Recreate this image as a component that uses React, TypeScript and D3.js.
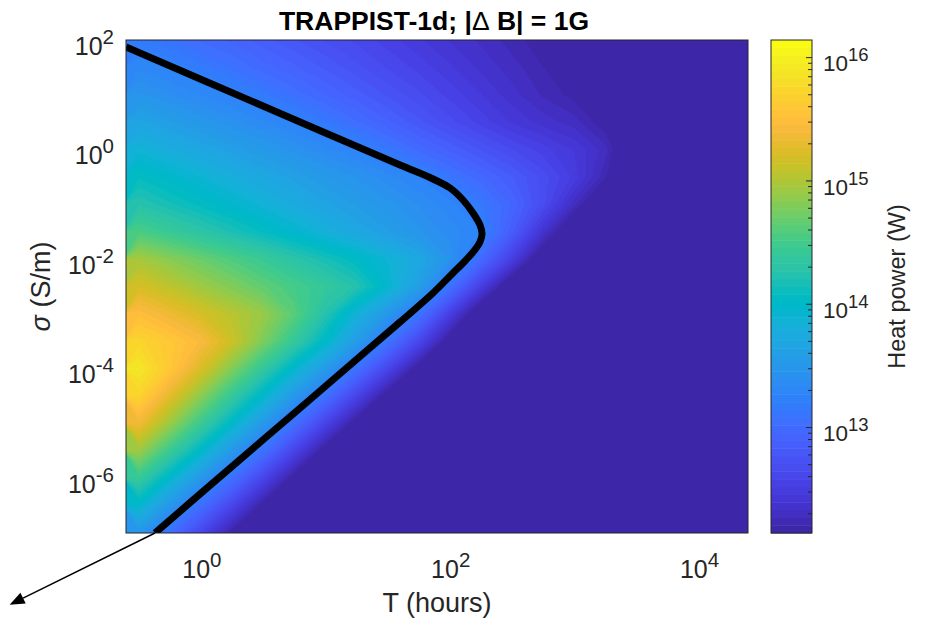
import React from 'react'
import * as d3 from 'd3'

const FONT = "'Liberation Sans', Arial, Helvetica, sans-serif"
const INK = '#262626'

// MATLAB parula, 64 entries
const parula = [
  [0.2422, 0.1504, 0.6603], [0.2504, 0.165, 0.7076], [0.2578, 0.1818, 0.7511], [0.2647, 0.1978, 0.7952],
  [0.2706, 0.2147, 0.8364], [0.2751, 0.2342, 0.871], [0.2783, 0.2559, 0.8991], [0.2803, 0.2782, 0.9221],
  [0.2813, 0.3006, 0.9414], [0.281, 0.3228, 0.9579], [0.2795, 0.3447, 0.9717], [0.276, 0.3667, 0.9829],
  [0.2699, 0.3892, 0.9906], [0.2602, 0.4123, 0.9952], [0.244, 0.4358, 0.9988], [0.2206, 0.4603, 0.9973],
  [0.1963, 0.4847, 0.9892], [0.1834, 0.5074, 0.9798], [0.1786, 0.5289, 0.9682], [0.1764, 0.5499, 0.952],
  [0.1687, 0.5703, 0.9359], [0.154, 0.5902, 0.9218], [0.146, 0.6091, 0.9079], [0.138, 0.6276, 0.8973],
  [0.1248, 0.6459, 0.8883], [0.1113, 0.6635, 0.8763], [0.0952, 0.6798, 0.8598], [0.0689, 0.6948, 0.8394],
  [0.0297, 0.7082, 0.8163], [0.0036, 0.7203, 0.7917], [0.0067, 0.7312, 0.766], [0.0433, 0.7411, 0.7394],
  [0.0964, 0.75, 0.712], [0.1408, 0.7584, 0.6842], [0.1717, 0.767, 0.6554], [0.1938, 0.7758, 0.6251],
  [0.2161, 0.7843, 0.5923], [0.247, 0.7918, 0.5567], [0.2906, 0.7973, 0.5188], [0.3406, 0.8008, 0.4789],
  [0.3909, 0.8029, 0.4354], [0.4456, 0.8024, 0.3909], [0.5044, 0.7993, 0.348], [0.5616, 0.7942, 0.3045],
  [0.6174, 0.7876, 0.2612], [0.672, 0.7793, 0.2227], [0.7242, 0.7698, 0.191], [0.7738, 0.7598, 0.1646],
  [0.8203, 0.7498, 0.1535], [0.8634, 0.7406, 0.1596], [0.9035, 0.733, 0.1774], [0.9393, 0.7288, 0.21],
  [0.9728, 0.7298, 0.2394], [0.9956, 0.7434, 0.2371], [0.997, 0.7659, 0.2199], [0.9952, 0.7893, 0.2028],
  [0.9892, 0.8136, 0.1885], [0.9786, 0.8386, 0.1766], [0.9676, 0.8639, 0.1643], [0.961, 0.889, 0.1537],
  [0.9597, 0.9135, 0.1423], [0.9628, 0.9373, 0.1265], [0.9691, 0.9606, 0.1064], [0.9769, 0.9839, 0.0805],
]
const parulaHex = parula.map(([r, g, b]) => d3.rgb(r * 255, g * 255, b * 255).formatHex())

// grid: log10 T (hours) columns, log10 sigma (S/m) rows
const logTGrid = [-0.5, -0.25, 0, 0.25, 0.5, 0.75, 1, 1.25, 1.5, 1.75, 2, 2.25, 2.5, 2.75, 3, 3.25, 3.5, 3.75, 4, 4.25, 4.5]
const logSigmaGrid = [2, 1.5, 1, 0.5, 0, -0.5, -1, -1.5, -2, -2.5, -3, -3.5, -4, -4.5, -5, -5.5, -6, -6.5, -7]

// log10 heat power (W), one row per sigma
const heatLog = [
  [13.17, 13.09, 13.01, 12.94, 12.86, 12.78, 12.7, 12.63, 12.55, 12.47, 12.39, 12.32, 12.24, 12.16, 12.08, 12.0, 11.93, 11.9, 11.9, 11.9, 11.9],
  [13.32, 13.26, 13.17, 13.08, 12.99, 12.91, 12.82, 12.73, 12.64, 12.56, 12.47, 12.38, 12.3, 12.21, 12.13, 12.04, 11.95, 11.9, 11.9, 11.9, 11.9],
  [13.47, 13.4, 13.33, 13.26, 13.16, 13.06, 12.96, 12.86, 12.76, 12.66, 12.56, 12.46, 12.36, 12.26, 12.18, 12.08, 11.96, 11.9, 11.9, 11.9, 11.9],
  [13.67, 13.59, 13.5, 13.42, 13.34, 13.26, 13.15, 13.03, 12.91, 12.79, 12.67, 12.56, 12.45, 12.37, 12.3, 12.15, 11.95, 11.9, 11.9, 11.9, 11.9],
  [13.87, 13.78, 13.7, 13.61, 13.53, 13.44, 13.35, 13.27, 13.14, 13.0, 12.88, 12.76, 12.65, 12.55, 12.45, 12.3, 11.92, 11.9, 11.9, 11.9, 11.9],
  [14.07, 13.98, 13.89, 13.8, 13.71, 13.62, 13.53, 13.45, 13.36, 13.27, 13.12, 12.98, 12.84, 12.68, 12.5, 12.22, 11.9, 11.9, 11.9, 11.9, 11.9],
  [14.26, 14.16, 14.06, 13.96, 13.86, 13.76, 13.66, 13.57, 13.48, 13.39, 13.3, 13.15, 12.95, 12.67, 12.3, 11.9, 11.9, 11.9, 11.9, 11.9, 11.9],
  [14.55, 14.43, 14.31, 14.19, 14.07, 13.95, 13.83, 13.71, 13.59, 13.47, 13.36, 13.27, 12.85, 12.38, 11.95, 11.9, 11.9, 11.9, 11.9, 11.9, 11.9],
  [14.96, 14.83, 14.7, 14.57, 14.44, 14.3, 14.17, 14.03, 13.88, 13.72, 13.45, 13.0, 12.52, 12.0, 11.9, 11.9, 11.9, 11.9, 11.9, 11.9, 11.9],
  [15.2, 15.07, 14.93, 14.8, 14.66, 14.52, 14.4, 14.25, 13.95, 13.6, 13.08, 12.52, 11.98, 11.9, 11.9, 11.9, 11.9, 11.9, 11.9, 11.9, 11.9],
  [15.49, 15.35, 15.2, 15.05, 14.9, 14.62, 14.25, 13.85, 13.5, 13.1, 12.52, 11.98, 11.9, 11.9, 11.9, 11.9, 11.9, 11.9, 11.9, 11.9, 11.9],
  [15.73, 15.6, 15.44, 15.15, 14.78, 14.4, 14.0, 13.57, 13.1, 12.62, 12.08, 11.9, 11.9, 11.9, 11.9, 11.9, 11.9, 11.9, 11.9, 11.9, 11.9],
  [15.9, 15.6, 15.22, 14.8, 14.38, 13.95, 13.55, 13.07, 12.6, 12.1, 11.9, 11.9, 11.9, 11.9, 11.9, 11.9, 11.9, 11.9, 11.9, 11.9, 11.9],
  [15.72, 15.28, 14.84, 14.4, 13.96, 13.52, 13.06, 12.58, 12.1, 11.9, 11.9, 11.9, 11.9, 11.9, 11.9, 11.9, 11.9, 11.9, 11.9, 11.9, 11.9],
  [15.37, 14.91, 14.45, 13.99, 13.53, 13.05, 12.57, 12.1, 11.9, 11.9, 11.9, 11.9, 11.9, 11.9, 11.9, 11.9, 11.9, 11.9, 11.9, 11.9, 11.9],
  [14.92, 14.45, 13.99, 13.52, 13.07, 12.58, 12.1, 11.9, 11.9, 11.9, 11.9, 11.9, 11.9, 11.9, 11.9, 11.9, 11.9, 11.9, 11.9, 11.9, 11.9],
  [14.42, 13.96, 13.51, 13.05, 12.59, 12.12, 11.9, 11.9, 11.9, 11.9, 11.9, 11.9, 11.9, 11.9, 11.9, 11.9, 11.9, 11.9, 11.9, 11.9, 11.9],
  [13.96, 13.5, 13.04, 12.6, 12.14, 11.9, 11.9, 11.9, 11.9, 11.9, 11.9, 11.9, 11.9, 11.9, 11.9, 11.9, 11.9, 11.9, 11.9, 11.9, 11.9],
  [13.5, 13.04, 12.6, 12.16, 11.9, 11.9, 11.9, 11.9, 11.9, 11.9, 11.9, 11.9, 11.9, 11.9, 11.9, 11.9, 11.9, 11.9, 11.9, 11.9, 11.9],
]

// black contour line (T in hours, sigma in S/m)
const contourT = [0.25, 3.155, 39.9, 73.5, 100.7, 128.0, 153.9, 175.2, 182.0, 175.2, 157.0, 132.8, 104.4, 73.5, 39.9, 6.27, 0.984, 0.428]
const contourSigma = [74.5, 6.24, 0.522, 0.29, 0.1986, 0.1199, 0.0695, 0.042, 0.0288, 0.0206, 0.0141, 0.00925, 0.00535, 0.00241, 0.000711, 1.91e-5, 5.15e-7, 1e-7]

// annotation arrow (T, sigma)
const arrowFrom = [0.428, 1e-7]
const arrowTo = [0.029, 4.9e-9]

const tRange = [0.25, 25000]
const sigmaRange = [1e-7, 100]
const powerRange = [10 ** 12.145, 10 ** 16.143]

const xTickExps = [0, 2, 4]
const yTickExps = [2, 0, -2, -4, -6]
const cTickExps = [13, 14, 15, 16]

const plot = { left: 126, right: 748, top: 40, bottom: 533 }
const bar = { left: 771, right: 812 }

export default function App() {
  const x = d3.scaleLog().domain(tRange).range([plot.left, plot.right])
  const y = d3.scaleLog().domain(sigmaRange).range([plot.bottom, plot.top])
  const cy = d3.scaleLog().domain(powerRange).range([plot.bottom, plot.top])

  const lo = Math.log10(powerRange[0])
  const hi = Math.log10(powerRange[1])
  const n = parulaHex.length
  const step = (hi - lo) / n
  const thresholds = d3.range(1, n).map((k) => lo + k * step)

  const nx = logTGrid.length
  const ny = logSigmaGrid.length
  const dt = logTGrid[1] - logTGrid[0]
  const ds = logSigmaGrid[0] - logSigmaGrid[1]
  const bands = d3.contours().size([nx, ny]).thresholds(thresholds)(heatLog.flat())

  const proj = d3.geoTransform({
    point: function (u, v) {
      this.stream.point(
        x(10 ** (logTGrid[0] + (u - 0.5) * dt)),
        y(10 ** (logSigmaGrid[0] - (v - 0.5) * ds))
      )
    },
  })
  const geo = d3.geoPath(proj)

  const line = d3
    .line()
    .x((i) => x(contourT[i]))
    .y((i) => y(contourSigma[i]))
    .curve(d3.curveCatmullRom.alpha(0.5))(d3.range(contourT.length))

  // arrow
  const ax0 = x(arrowFrom[0]), ay0 = y(arrowFrom[1])
  const ax1 = x(arrowTo[0]), ay1 = y(arrowTo[1])
  const ang = Math.atan2(ay1 - ay0, ax1 - ax0)
  const hl = 15, hw = 6
  const bx = ax1 - hl * Math.cos(ang), by = ay1 - hl * Math.sin(ang)
  const head = [
    [ax1, ay1],
    [bx + hw * Math.sin(ang), by - hw * Math.cos(ang)],
    [bx - hw * Math.sin(ang), by + hw * Math.cos(ang)],
  ]

  const cTicks = cy.ticks()
  const isMajor = (v) => Math.abs(Math.log10(v) - Math.round(Math.log10(v))) < 1e-6

  return (
    <div style={{ position: 'fixed', left: 0, top: 0 }}>
      <svg width={928} height={625} style={{ display: 'block', background: '#fff' }} fontFamily={FONT}>
        <defs>
          <clipPath id="plotClip">
            <rect x={plot.left} y={plot.top} width={plot.right - plot.left} height={plot.bottom - plot.top} />
          </clipPath>
        </defs>

        <g clipPath="url(#plotClip)">
          <rect x={plot.left} y={plot.top} width={plot.right - plot.left} height={plot.bottom - plot.top} fill={parulaHex[0]} />
          {bands.map((b, k) => (
            <path key={k} d={geo(b)} fill={parulaHex[k + 1]} stroke={parulaHex[k + 1]} strokeWidth={0.4} />
          ))}
          <path d={line} fill="none" stroke="#000" strokeWidth={7} />
        </g>
        <rect x={plot.left} y={plot.top} width={plot.right - plot.left} height={plot.bottom - plot.top} fill="none" stroke={INK} strokeWidth={1} />

        {/* x ticks */}
        {xTickExps.map((e) => (
          <text key={e} x={x(10 ** e) + 1} y={578} textAnchor="middle" fontSize={25} fill={INK}>
            10<tspan dy={-11} fontSize={20.5}>{e}</tspan>
          </text>
        ))}
        {/* y ticks */}
        {yTickExps.map((e) => (
          <text key={e} x={114} y={y(10 ** e) + 14.5} textAnchor="end" fontSize={25} fill={INK}>
            10<tspan dy={-11} fontSize={20.5}>{e}</tspan>
          </text>
        ))}

        <text x={(plot.left + plot.right) / 2} y={612} textAnchor="middle" fontSize={27} fill={INK}>T (hours)</text>
        <text transform={`translate(50, ${(plot.top + plot.bottom) / 2}) rotate(-90)`} textAnchor="middle" fontSize={27} fill={INK}>
          <tspan fontStyle="italic">σ</tspan> (S/m)
        </text>
        <text x={434} y={30} textAnchor="middle" fontSize={26.5} fontWeight="bold" fill="#000">
          TRAPPIST-1d; |<tspan fontWeight="normal">Δ</tspan> B| = 1G
        </text>

        {/* colorbar */}
        {parulaHex.map((col, k) => {
          const y0 = cy(10 ** (lo + (k + 1) * step))
          const y1 = cy(10 ** (lo + k * step))
          return <rect key={k} x={bar.left} y={y0} width={bar.right - bar.left} height={y1 - y0 + 0.5} fill={col} />
        })}
        {cTicks.map((v, i) => (
          <line key={i} x1={bar.right} x2={bar.right - (isMajor(v) ? 6 : 4)} y1={cy(v)} y2={cy(v)} stroke={INK} strokeWidth={1} />
        ))}
        <rect x={bar.left} y={plot.top} width={bar.right - bar.left} height={plot.bottom - plot.top} fill="none" stroke={INK} strokeWidth={1} />
        {cTickExps.map((e) => (
          <text key={e} x={823} y={cy(10 ** e) + 13.7} fontSize={22.5} fill={INK}>
            10<tspan dy={-10} fontSize={18.5}>{e}</tspan>
          </text>
        ))}
        <text transform={`translate(905, ${(plot.top + plot.bottom) / 2}) rotate(-90)`} textAnchor="middle" fontSize={23.5} fill={INK}>
          Heat power (W)
        </text>

        {/* arrow annotation */}
        <line x1={ax0} y1={ay0} x2={bx} y2={by} stroke="#000" strokeWidth={1.5} />
        <polygon points={head.map((p) => p.join(',')).join(' ')} fill="#000" />
      </svg>
    </div>
  )
}
